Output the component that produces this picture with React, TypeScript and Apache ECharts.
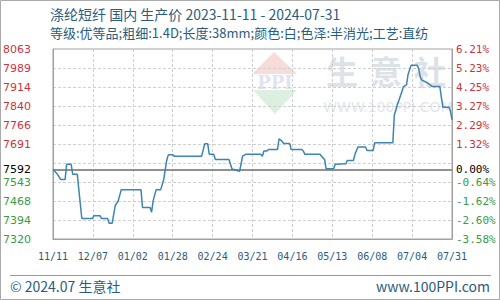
import React, { useEffect, useRef } from 'react';
import * as echarts from 'echarts';

const titleText = '涤纶短纤 国内 生产价 2023-11-11 - 2024-07-31';
const subtitleText = '等级:优等品;粗细:1.4D;长度:38mm;颜色:白;色泽:半消光;工艺:直纺';
const footerLeft = '© 2024.07 生意社';
const footerRight = 'www.100PPI.com';

const xTickLabels = ['11/11', '12/07', '01/02', '01/28', '02/24', '03/21', '04/16', '05/13', '06/08', '07/04', '07/31'];
const priceTickLabels = ['7320', '7394', '7468', '7543', '', '7691', '7766', '7840', '7914', '7989', '8063'];
const pctTickLabels = ['-3.58%', '-2.60%', '-1.62%', '-0.64%', '', '1.32%', '2.29%', '3.27%', '4.25%', '5.23%', '6.21%'];

const startDate = '2023-11-11';
const endDate = '2024-07-31';
const basePrice = 7592;
const priceMin = 7320;
const priceMax = 8063;

const dates = [
  '2023-11-11', '2023-11-14', '2023-11-16', '2023-11-19', '2023-11-20', '2023-11-23', '2023-11-24', '2023-11-27',
  '2023-11-30', '2023-12-07', '2023-12-08', '2023-12-12', '2023-12-13', '2023-12-17', '2023-12-18', '2023-12-20',
  '2023-12-22', '2023-12-24', '2023-12-26', '2024-01-08', '2024-01-09', '2024-01-14', '2024-01-15', '2024-01-16',
  '2024-01-18', '2024-01-21', '2024-01-23', '2024-01-25', '2024-01-26', '2024-01-29', '2024-01-30', '2024-02-17',
  '2024-02-19', '2024-02-21', '2024-02-22', '2024-02-25', '2024-02-26', '2024-03-06', '2024-03-08', '2024-03-13',
  '2024-03-15', '2024-03-17', '2024-03-27', '2024-03-28', '2024-03-29', '2024-03-31', '2024-04-01', '2024-04-07',
  '2024-04-08', '2024-04-10', '2024-04-11', '2024-04-15', '2024-04-16', '2024-04-23', '2024-04-24', '2024-04-25',
  '2024-05-05', '2024-05-06', '2024-05-08', '2024-05-09', '2024-05-14', '2024-05-15', '2024-05-22', '2024-05-23',
  '2024-05-27', '2024-05-28', '2024-05-30', '2024-06-04', '2024-06-05', '2024-06-09', '2024-06-10', '2024-06-22',
  '2024-06-23', '2024-06-25', '2024-06-28', '2024-06-29', '2024-07-01', '2024-07-02', '2024-07-04', '2024-07-08',
  '2024-07-09', '2024-07-10', '2024-07-11', '2024-07-15', '2024-07-18', '2024-07-23', '2024-07-24', '2024-07-25',
  '2024-07-29', '2024-07-30', '2024-07-31',
];
const prices = [
  7592, 7573, 7553, 7553, 7612, 7612, 7573, 7573,
  7400, 7400, 7411, 7411, 7400, 7400, 7382, 7382,
  7450, 7469, 7513, 7513, 7443, 7443, 7425, 7469,
  7513, 7513, 7553, 7629, 7649, 7649, 7644, 7644,
  7692, 7692, 7651, 7651, 7631, 7631, 7594, 7585,
  7644, 7651, 7651, 7643, 7664, 7664, 7670, 7670,
  7712, 7702, 7693, 7693, 7670, 7670, 7664, 7651,
  7651, 7644, 7631, 7595, 7595, 7612, 7614, 7627,
  7627, 7651, 7680, 7680, 7666, 7666, 7696, 7696,
  7806, 7845, 7897, 7916, 7923, 7962, 7999, 7999,
  7988, 7955, 7942, 7930, 7916, 7916, 7874, 7835,
  7835, 7819, 7787,
];

const RED = '#cc3340';
const GREEN = '#3a9a45';
const BLUE_TEXT = '#2a5c80';

function tickColor(index: number): string {
  return index < 4 ? GREEN : RED;
}

export default function App() {
  const ref = useRef<HTMLDivElement>(null);

  useEffect(() => {
    if (!ref.current) return;
    const chart = echarts.init(ref.current, undefined, { renderer: 'svg' });
    const seriesData = dates.map((d, i) => [d, prices[i]]);
    const option: any = {
      animation: false,
      backgroundColor: '#ffffff',
      title: [
        {
          text: titleText,
          left: 50,
          top: 7,
          padding: 0,
          textStyle: { fontSize: 14, fontWeight: 'normal', color: BLUE_TEXT, fontFamily: 'Noto Sans CJK SC' },
        },
        {
          text: subtitleText,
          left: 50,
          top: 26,
          padding: 0,
          textStyle: { fontSize: 13, fontWeight: 'normal', color: BLUE_TEXT, fontFamily: 'Noto Sans CJK SC' },
        },
      ],
      grid: {
        left: 50,
        right: 48,
        top: 49,
        bottom: 61,
        show: true,
        borderColor: '#a0a0a0',
        borderWidth: 1,
        backgroundColor: 'transparent',
      },
      xAxis: [
        {
          type: 'time',
          min: startDate,
          max: endDate,
          show: false,
        },
        {
          type: 'category',
          data: xTickLabels,
          boundaryGap: false,
          position: 'bottom',
          axisLine: { show: true, lineStyle: { color: '#a0a0a0' } },
          axisTick: { show: false },
          axisLabel: {
            interval: 0,
            margin: 12,
            color: BLUE_TEXT,
            fontSize: 10,
            fontFamily: 'DejaVu Sans Mono',
          },
          splitLine: { show: true, interval: 0, lineStyle: { color: '#cfcfcf', type: [3, 2], width: 1 } },
        },
      ],
      yAxis: [
        {
          type: 'value',
          min: priceMin,
          max: priceMax,
          show: false,
          splitLine: { show: false },
        },
        {
          type: 'category',
          data: priceTickLabels.map((v, i) => ({ value: v, textStyle: { color: tickColor(i) } })),
          boundaryGap: false,
          position: 'left',
          axisLine: { show: true, lineStyle: { color: '#a0a0a0' } },
          axisTick: { show: false },
          axisLabel: { interval: 0, margin: 22, fontSize: 11, fontFamily: 'DejaVu Sans' },
          splitLine: { show: true, interval: 0, lineStyle: { color: '#cfcfcf', type: [3, 2], width: 1 } },
        },
        {
          type: 'category',
          data: pctTickLabels.map((v, i) => ({ value: v, textStyle: { color: tickColor(i) } })),
          boundaryGap: false,
          position: 'right',
          axisLine: { show: true, lineStyle: { color: '#a0a0a0' } },
          axisTick: { show: false },
          axisLabel: { interval: 0, margin: 4, fontSize: 11, fontFamily: 'DejaVu Sans Mono' },
          splitLine: { show: false },
        },
      ],
      graphic: [
        { type: 'rect', shape: { x: 0.5, y: 0.5, width: 499, height: 299 }, style: { fill: 'none', stroke: '#aaaaaa', lineWidth: 1 }, silent: true },
        { type: 'line', shape: { x1: 10, y1: 275.5, x2: 491, y2: 275.5 }, style: { stroke: '#999999', lineWidth: 1 }, silent: true },
        { type: 'text', x: 10, y: 286, style: { text: footerLeft, fill: BLUE_TEXT, fontSize: 14, fontFamily: 'Noto Sans CJK SC', verticalAlign: 'middle', align: 'left' } },
        { type: 'text', x: 490, y: 286, style: { text: footerRight, fill: BLUE_TEXT, fontSize: 14, fontFamily: 'Noto Sans CJK SC', verticalAlign: 'middle', align: 'right' } },
        // watermark
        { type: 'polygon', z: -1, shape: { points: [[274, 52], [297, 74], [252, 74]] }, style: { fill: '#f8dcd9' }, silent: true },
        { type: 'polygon', z: -1, shape: { points: [[253, 90], [297, 90], [275, 114]] }, style: { fill: '#ddefe1' }, silent: true },
        { type: 'text', z: -1, x: 275, y: 82, style: { text: 'PPI', fill: '#dfe4ee', fontSize: 18, fontWeight: 'bold', fontFamily: 'DejaVu Serif', align: 'center', verticalAlign: 'middle' }, silent: true },
        { type: 'text', z: -1, x: 342, y: 70, style: { text: '生', fill: '#dde2e9', fontSize: 32, fontWeight: 'bold', fontFamily: 'Noto Sans CJK SC', align: 'center', verticalAlign: 'middle' }, silent: true },
        { type: 'text', z: -1, x: 386, y: 70, style: { text: '意', fill: '#dde2e9', fontSize: 32, fontWeight: 'bold', fontFamily: 'Noto Sans CJK SC', align: 'center', verticalAlign: 'middle' }, silent: true },
        { type: 'text', z: -1, x: 430, y: 70, style: { text: '社', fill: '#dde2e9', fontSize: 32, fontWeight: 'bold', fontFamily: 'Noto Sans CJK SC', align: 'center', verticalAlign: 'middle' }, silent: true },
        { type: 'text', z: -1, x: 388, y: 107, style: { text: 'WWW.100PPI.COM', fill: '#e2e6eb', fontSize: 14, fontFamily: 'DejaVu Sans', align: 'center', verticalAlign: 'middle' }, silent: true },
      ],
      series: [
        {
          type: 'line',
          xAxisIndex: 0,
          yAxisIndex: 0,
          data: seriesData,
          showSymbol: false,
          symbol: 'none',
          lineStyle: { color: '#3d84b0', width: 1.5 },
          z: 5,
          markLine: {
            silent: true,
            symbol: ['none', 'none'],
            lineStyle: { type: 'solid', color: '#8a8a8a', width: 1.5 },
            data: [
              {
                yAxis: basePrice,
                label: { show: true, position: 'start', distance: 22, formatter: String(basePrice), color: '#000000', fontSize: 11, fontFamily: 'DejaVu Sans' },
              },
              {
                yAxis: basePrice,
                label: { show: true, position: 'end', distance: 4, formatter: '0.00%', color: '#000000', fontSize: 11, fontFamily: 'DejaVu Sans Mono' },
              },
            ],
          },
        },
      ],
    };
    chart.setOption(option);
    return () => chart.dispose();
  }, []);

  return (
    <div
      ref={ref}
      style={{ position: 'absolute', left: 0, top: 0, width: 500, height: 300 }}
    />
  );
}
